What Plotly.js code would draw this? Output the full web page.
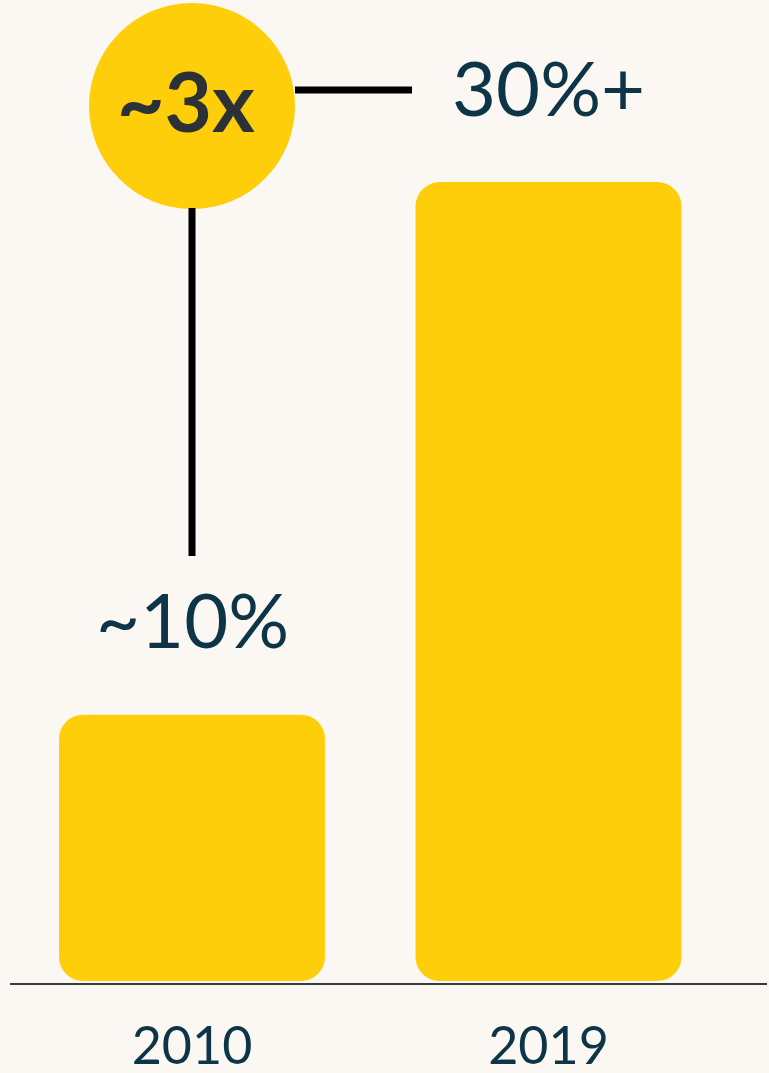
<!DOCTYPE html>
<html>
<head>
<meta charset="utf-8">
<script src="https://cdn.plot.ly/plotly-3.0.1.min.js"></script>
<style>
html,body{margin:0;padding:0;background:#FBF8F3;}
#chart{width:769px;height:1073px;}
</style>
</head>
<body>
<div id="chart"></div>
<script>
// Data
const categories = ["2010", "2019"];
const values = [10, 30];
const valueLabels = ["~10%", "30%+"];
const multiplierLabel = "~3x";

const yellow = "#FFCE0B";
const textColor = "#0D3447";
const bg = "#FBF8F3";

const xIdx = categories.map((c, i) => i);
const zeros = values.map(() => 0);

const bars = {
  type: "bar", x: xIdx, y: values, base: zeros,
  marker: {color: yellow, line: {width: 0}},
  hoverinfo: "skip", showlegend: false
};

// Layout geometry
const plotH = 983, pxPerUnit = 26.63;
const yMin = -2 / pxPerUnit;
const yMax = yMin + plotH / pxPerUnit;
const pxPerCat = 356.5;
const xMin = -(192 - 10) / pxPerCat;
const xMax = xMin + 757 / pxPerCat;

const annotations = values.map((v, i) => ({
  x: i, y: v, xref: "x", yref: "y",
  text: valueLabels[i], showarrow: false,
  yanchor: "middle", xanchor: "center", yshift: 96,
  font: {family: "Lato", size: 76, color: textColor}
}));
const circleCenterY = 1 - 106 / plotH;
annotations.push({
  x: 0, y: circleCenterY, xref: "x", yref: "paper",
  text: "<b>" + multiplierLabel + "</b>", showarrow: false,
  xanchor: "center", yanchor: "middle", xshift: -6, yshift: 6,
  font: {family: "Lato", size: 82, color: "#2B3137"}
});

const pxToVal = p => (981 - p) / pxPerUnit;

const shapes = [
  {type: "circle", xref: "x", yref: "paper", xsizemode: "pixel", ysizemode: "pixel",
   xanchor: 0, yanchor: circleCenterY, x0: -103, x1: 103, y0: -103, y1: 103,
   fillcolor: yellow, line: {width: 0}, layer: "below"},
  {type: "line", xref: "x", yref: "y", x0: 0, x1: 0, y0: pxToVal(208), y1: pxToVal(556),
   line: {color: "#000000", width: 7}},
  {type: "line", xref: "x", yref: "y", x0: (295 - 192) / pxPerCat, x1: (412 - 192) / pxPerCat,
   y0: pxToVal(90), y1: pxToVal(90), line: {color: "#000000", width: 7}}
];

const layout = {
  width: 769, height: 1073,
  margin: {l: 10, r: 2, t: 0, b: 90},
  paper_bgcolor: bg, plot_bgcolor: bg,
  bargap: 0.254, barcornerradius: 24,
  xaxis: {
    range: [xMin, xMax], tickmode: "array", tickvals: xIdx, ticktext: categories,
    showgrid: false, zeroline: false, showline: true, linecolor: "#3A3A3A", linewidth: 1.5,
    ticks: "", ticklabelstandoff: 17,
    tickfont: {family: "Lato", size: 52, color: textColor}, fixedrange: true
  },
  yaxis: {range: [yMin, yMax], visible: false, showgrid: false, zeroline: false, fixedrange: true},
  annotations: annotations,
  shapes: shapes,
  showlegend: false
};

Plotly.newPlot("chart", [bars], layout, {displayModeBar: false, staticPlot: true});
</script>
</body>
</html>
